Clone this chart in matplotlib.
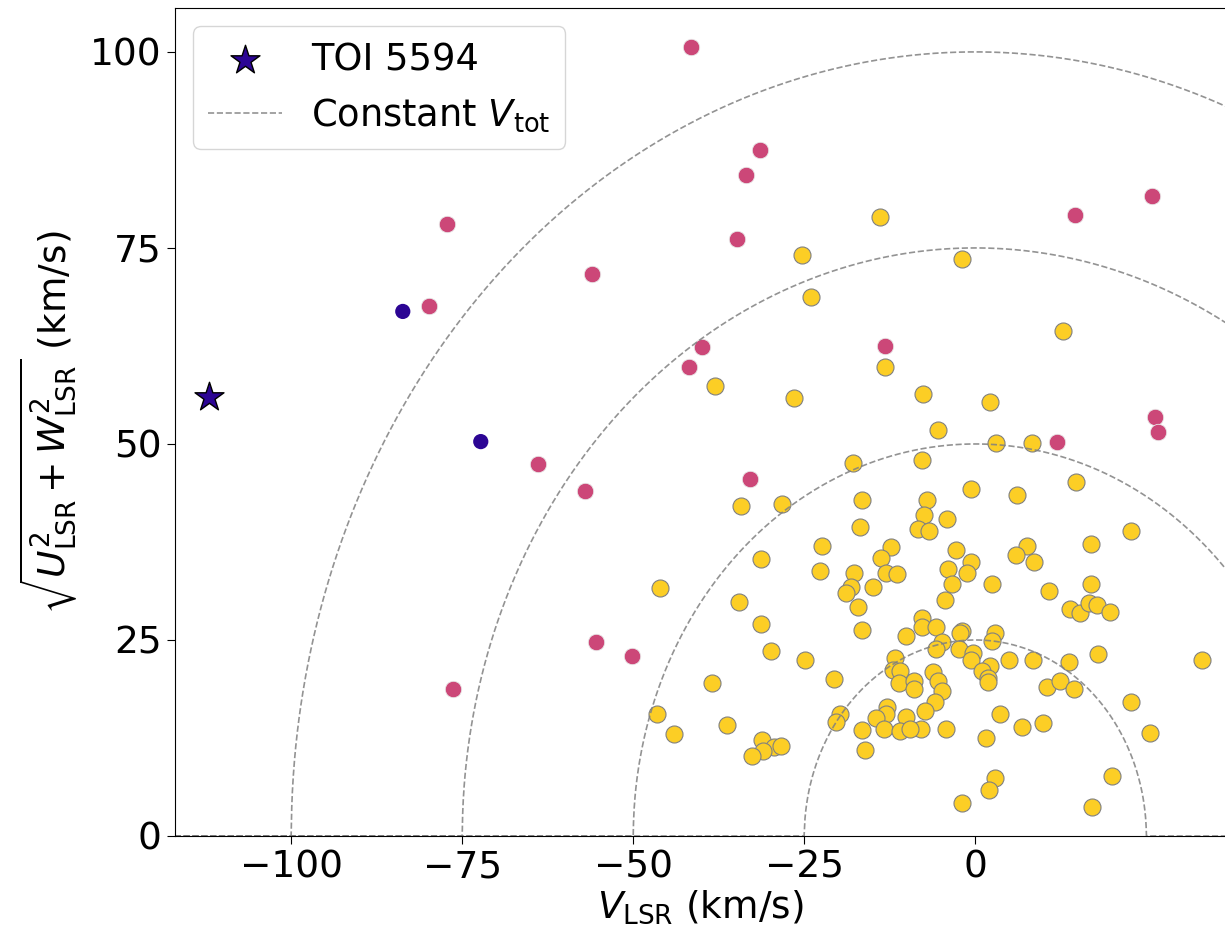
import numpy as np
import matplotlib
matplotlib.use("Agg")
import matplotlib.pyplot as plt

# thin disk (yellow)
thin_v = [-13.9, -25.4, -2.0, -24.0, 12.8, -13.2, -38.0, -26.5, -7.6, 2.2,
          -5.4, 3.0, 8.3, -17.9, -7.8, 14.7, -0.6, 6.1, -34.3, -28.2,
          -16.5, -7.0, -16.9, -7.5, -8.4, -6.8, -4.2, 22.8, 16.9, -2.8,
          7.5, 6.0, 8.6, -0.6, -1.2, -4.0, -3.4, 2.4, 10.7, 16.9,
          -22.4, -12.4, -13.8, -31.3, -22.7, -17.7, -13.0, -11.5, -18.2, -18.9,
          -14.9, -46.1, -34.6, -17.1, -4.5, 13.9, 15.3, 16.6, 17.8, 19.7,
          -7.8, -7.8, -5.8, -2.0, -2.3, 2.9, 2.4, -4.9, -5.7, -2.4,
          -0.3, -0.6, 4.9, 8.5, 13.7, 17.9, 33.2, 2.2, 1.0, 1.9,
          1.9, -6.2, -5.4, -4.9, -5.9, -7.3, -8.0, -4.3, 10.5, 12.4,
          14.4, 3.6, 6.8, 9.9, 1.6, 22.8, 25.6, 2.9, 2.0, -1.9,
          20.0, 17.0, -31.3, -16.5, -10.1, -29.9, -24.9, -20.7, -38.5, -11.8,
          -12.0, -11.0, -11.2, -9.0, -9.0, -46.5, -44.1, -36.3, -19.8, -20.3,
          -12.9, -13.1, -14.5, -13.4, -10.1, -11.0, -9.5, -16.5, -16.2, -31.2,
          -29.4, -28.4, -31.0, -32.6]
thin_uw = [79.0, 74.1, 73.6, 68.8, 64.4, 59.8, 57.4, 55.9, 56.4, 55.4,
           51.8, 50.1, 50.1, 47.6, 48.0, 45.2, 44.3, 43.5, 42.1, 42.3,
           42.9, 42.9, 39.4, 40.9, 39.2, 38.9, 40.4, 38.9, 37.2, 36.5,
           37.0, 35.8, 35.0, 34.9, 33.6, 34.1, 32.2, 32.1, 31.2, 32.1,
           37.0, 36.8, 35.5, 35.3, 33.8, 33.6, 33.6, 33.4, 31.7, 31.0,
           31.7, 31.6, 29.8, 29.2, 30.1, 29.0, 28.4, 29.7, 29.5, 28.6,
           27.8, 26.7, 26.6, 26.1, 25.9, 25.9, 24.9, 24.7, 23.9, 23.9,
           23.4, 22.4, 22.4, 22.4, 22.2, 23.2, 22.4, 21.7, 21.0, 20.1,
           19.6, 20.9, 19.8, 18.5, 17.1, 15.9, 13.7, 13.7, 19.0, 19.8,
           18.75, 15.6, 13.9, 14.4, 12.5, 17.1, 13.2, 7.4, 5.9, 4.2,
           7.65, 3.7, 27.0, 26.3, 25.5, 23.6, 22.4, 20.0, 19.5, 22.7,
           21.2, 21.0, 19.5, 19.8, 18.8, 15.6, 13.0, 14.2, 15.6, 14.6,
           16.5, 15.6, 15.0, 13.6, 15.2, 13.4, 13.7, 13.5, 11.0, 12.2,
           11.3, 11.5, 10.9, 10.2]

# thick disk (pink)
thick_v = [-41.5, -31.5, -33.5, -34.9, 14.5, 25.9, -40.0, -41.9, -13.2, 26.2,
           26.7, 12.0, -77.2, -56.1, -79.8, -63.9, -57.1, -55.5, -76.4, -50.2,
           -33.0]
thick_uw = [100.6, 87.5, 84.3, 76.1, 79.2, 81.6, 62.4, 59.8, 62.5, 53.5,
            51.5, 50.3, 78.0, 71.7, 67.6, 47.4, 44.0, 24.8, 18.75, 22.9,
            45.5]

# halo (dark blue)
halo_v = [-83.7, -72.3]
halo_uw = [66.9, 50.3]

# TOI 5594
toi_v = [-112.1]
toi_uw = [56.0]

v_tot = [25, 50, 75, 100]

yellow = "#fcce25"
pink = "#cc4778"
blue = "#2c0594"

plt.rcParams["font.size"] = 27

fig = plt.figure(figsize=(12.25, 9.33), dpi=100)
ax = fig.add_axes([175 / 1225, 1 - 836 / 933, 1 - 175 / 1225, (836 - 8) / 933])

ax.scatter(thin_v, thin_uw, s=150, color=yellow, edgecolor="gray", linewidth=0.8)
ax.scatter(thick_v, thick_uw, s=140, color=pink, edgecolor="#e8e8e8", linewidth=0.6)
ax.scatter(halo_v, halo_uw, s=120, color=blue, edgecolor="none")
ax.scatter(toi_v, toi_uw, s=480, marker="*", color=blue, edgecolor="black",
           linewidth=1.0, label="TOI 5594", zorder=3)

xx = np.linspace(-130, 50, 4000)
for i, r in enumerate(v_tot):
    yy = np.sqrt(np.clip(r ** 2 - xx ** 2, 0, None))
    ax.plot(xx, yy, ls="--", color="gray", lw=1.2, alpha=0.85,
            label=r"Constant $V_{\rm tot}$" if i == 0 else None)

ax.set_xlim(-117, 36.5)
ax.set_ylim(0, 105.6)
ax.set_xticks([-100, -75, -50, -25, 0])
ax.set_yticks([0, 25, 50, 75, 100])
ax.spines["right"].set_visible(False)
ax.tick_params(length=6)

ax.set_xlabel(r"$V_{\rm LSR}$ (km/s)", labelpad=2)
ax.set_ylabel(r"$\sqrt{U_{\rm LSR}^2 + W_{\rm LSR}^2}$ (km/s)", labelpad=8)

ax.legend(loc="upper left", fontsize=26.5, handlelength=2.0, borderpad=0.4)

fig.savefig("out.png", dpi=100)
